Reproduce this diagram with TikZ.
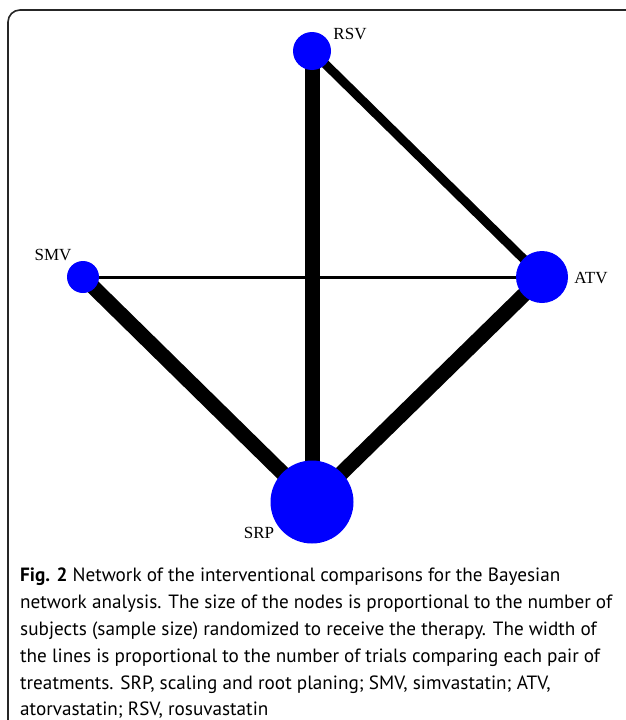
\documentclass[tikz,border=0pt]{standalone}
\usepackage{fontspec}
\setmainfont{PT Sans}
\newfontfamily\labfont{Liberation Serif}
\begin{document}
\begin{tikzpicture}[x=1pt,y=-1pt,
  trt/.style={circle,fill={rgb,255:red,0;green,0;blue,255},inner sep=0pt},
  lab/.style={font=\labfont\fontsize{17}{17}\selectfont,inner sep=0pt},
  edge/.style={line width=#1,black},
  capline/.style={anchor=base west,inner sep=0pt,font=\fontsize{19.2}{23}\selectfont}]
\useasboundingbox (0,0) rectangle (625,720);
\fill[white] (0,0) rectangle (625,720);
% frame
\draw[line width=1.6pt,black!85,rounded corners=12pt] (8,722) -- (8,10) -- (640,10);
% edges
\coordinate (pRSV) at (312,51);
\coordinate (pSMV) at (83,277);
\coordinate (pATV) at (542,277);
\coordinate (pSRP) at (312,502);
\draw[edge=15pt] (pRSV) -- (pSRP);
\draw[edge=9pt] (pRSV) -- (pATV);
\draw[edge=3pt] (pSMV) -- (pATV);
\draw[edge=15pt] (pSMV) -- (pSRP);
\draw[edge=15pt] (pATV) -- (pSRP);
% nodes
\node[trt,minimum size=38pt] (RSV) at (pRSV) {};
\node[trt,minimum size=32pt] (SMV) at (pSMV) {};
\node[trt,minimum size=52pt] (ATV) at (pATV) {};
\node[trt,minimum size=83pt] (SRP) at (pSRP) {};
% labels
\node[lab] (lRSV) at (350,34) {RSV};
\node[lab] (lSMV) at (53,255) {SMV};
\node[lab] (lATV) at (591,278) {ATV};
\node[lab] (lSRP) at (259,533) {SRP};
% caption
\node[capline] (c1) at (20,581) {\textbf{Fig. 2} Network of the interventional comparisons for the Bayesian};
\node[capline] (c2) at (20,608) {network analysis. The size of the nodes is proportional to the number of};
\node[capline] (c3) at (20,635) {subjects (sample size) randomized to receive the therapy. The width of};
\node[capline] (c4) at (20,662) {the lines is proportional to the number of trials comparing each pair of};
\node[capline] (c5) at (20,689) {treatments. SRP, scaling and root planing; SMV, simvastatin; ATV,};
\node[capline] (c6) at (20,715) {atorvastatin; RSV, rosuvastatin};
\end{tikzpicture}
\end{document}
